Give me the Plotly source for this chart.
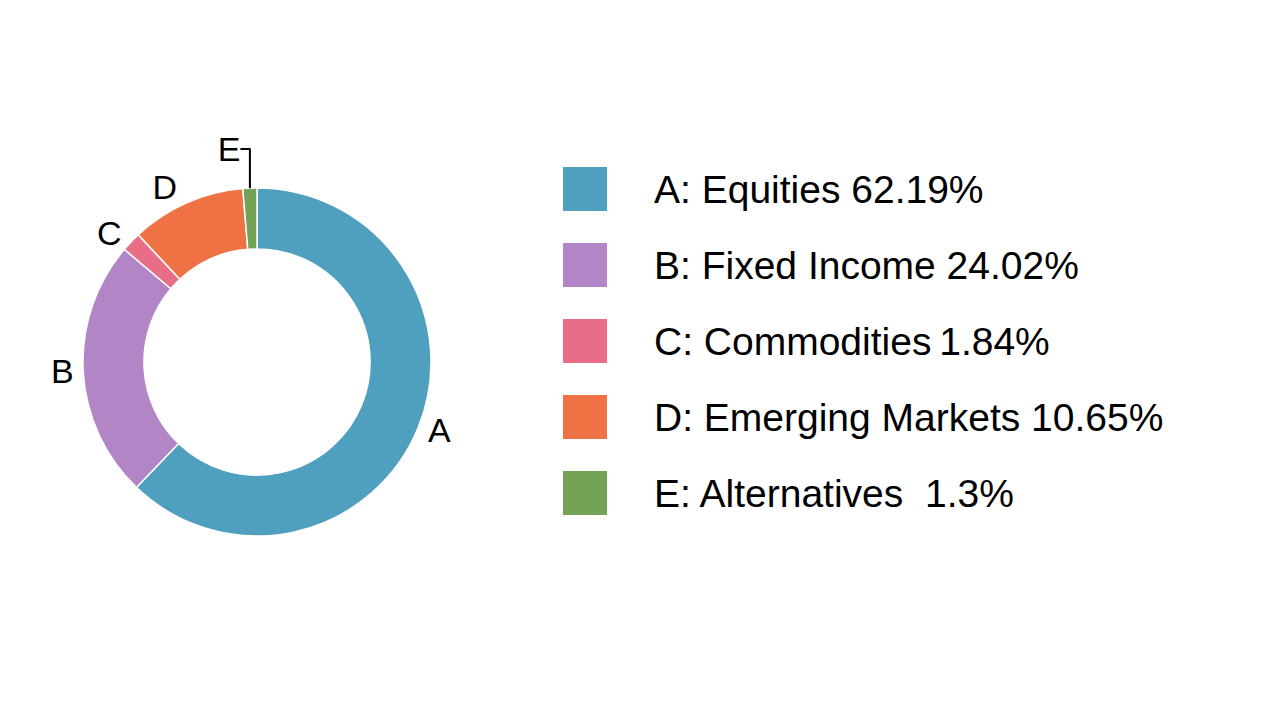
import plotly.graph_objects as go

labels = ["A", "B", "C", "D", "E"]
names = ["Equities", "Fixed Income", "Commodities", "Emerging Markets", "Alternatives"]
values = [62.19, 24.02, 1.84, 10.65, 1.3]
legend_text = ["A: Equities 62.19%", "B: Fixed Income 24.02%", "C: Commodities\u20091.84%",
               "D: Emerging Markets 10.65%", "E: Alternatives  1.3%"]
colors = ["#4f9fbf", "#b185c6", "#e86d86", "#ef7245", "#74a257"]

# page has an 8px body offset, so positions are shifted by -8px
fig = go.Figure(go.Pie(
    labels=labels, values=values, text=labels, textinfo="text",
    textposition="outside", hole=0.65, sort=False, direction="clockwise",
    marker=dict(colors=colors, line=dict(color="white", width=1.5)),
    textfont=dict(size=34, color="black"),
    domain=dict(x=[75 / 1280, 423 / 1280], y=[1 - 528 / 720, 1 - 180 / 720]),
    showlegend=False, hoverinfo="label+value",
))

shapes = []
annotations = []
for i, (t, c) in enumerate(zip(legend_text, colors)):
    yc = 181 + 76 * i
    shapes.append(dict(type="rect", xref="paper", yref="paper",
                       x0=555 / 1280, x1=599 / 1280,
                       y0=1 - (yc + 22) / 720, y1=1 - (yc - 22) / 720,
                       fillcolor=c, line=dict(width=0)))
    annotations.append(dict(xref="paper", yref="paper", x=644 / 1280, y=1 - yc / 720,
                            text=t, showarrow=False, xanchor="left", yanchor="middle",
                            font=dict(size=39, color="black")))

fig.update_layout(
    width=1280, height=720, margin=dict(l=0, r=0, t=0, b=0),
    paper_bgcolor="white", plot_bgcolor="white",
    font=dict(family="Liberation Sans, Arial, sans-serif"),
    shapes=shapes, annotations=annotations,
)
fig.write_html("out.html")
